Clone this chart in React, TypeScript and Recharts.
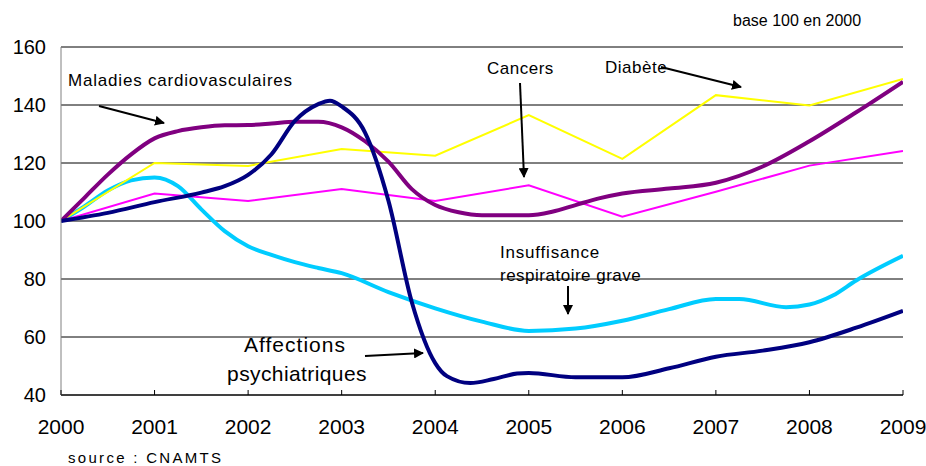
import React from 'react';
import { LineChart, Line, XAxis, YAxis, CartesianGrid } from 'recharts';

const years = [2000, 2001, 2002, 2003, 2004, 2005, 2006, 2007, 2008, 2009];
const yTicks = [40, 60, 80, 100, 120, 140, 160];

// yearly series (straight segments)
const diabete = [100, 120, 119, 124.8, 122.5, 136.5, 121.4, 143.4, 139.8, 149];
const cancers = [100, 109.5, 106.9, 111, 106.9, 112.3, 101.5, 110.1, 119.1, 124.1];

// smoothed series, [year, value]
const cardio = [
  [2000, 100], [2000.25, 108], [2000.5, 116], [2000.75, 123], [2001, 128.5],
  [2001.25, 131], [2001.5, 132.3], [2001.75, 133], [2002, 133.1], [2002.25, 133.6],
  [2002.5, 134.2], [2002.75, 134.2], [2003, 132.3], [2003.25, 127.5], [2003.5, 120.5],
  [2003.75, 111], [2004, 105.5], [2004.25, 103], [2004.5, 102], [2004.75, 102],
  [2005, 102], [2005.25, 103.2], [2005.5, 105.5], [2005.75, 107.8], [2006, 109.5],
  [2006.5, 111.2], [2007, 113.2], [2007.5, 118.8], [2008, 127.5], [2008.5, 137.5], [2009, 148],
];
const psy = [
  [2000, 100], [2000.5, 102.8], [2001, 106.5], [2001.5, 109.8], [2001.75, 112],
  [2002, 115.9], [2002.25, 123], [2002.5, 134.5], [2002.75, 140.3], [2002.875, 141.5],
  [2003, 139.5], [2003.25, 130.5], [2003.5, 107], [2003.75, 72], [2004, 51],
  [2004.125, 46.5], [2004.375, 44.1], [2004.625, 45.5], [2004.875, 47.4], [2005, 47.6],
  [2005.5, 46.1], [2006, 46.1], [2006.5, 49.2], [2007, 53.2], [2007.5, 55.3],
  [2008, 58.2], [2008.5, 63.2], [2009, 69],
];
const respi = [
  [2000, 100], [2000.25, 105], [2000.5, 110.5], [2000.75, 114], [2001, 115],
  [2001.25, 112], [2001.5, 104], [2001.75, 96.5], [2002, 91.3], [2002.25, 88.3],
  [2002.5, 85.8], [2002.75, 83.8], [2003, 82], [2003.5, 75.5], [2004, 69.9],
  [2004.5, 65.3], [2005, 62.1], [2005.5, 62.9], [2006, 65.6], [2006.5, 69.6],
  [2007, 73.1], [2007.25, 73.1], [2007.75, 70.3], [2008, 71.2], [2008.25, 74.3],
  [2008.5, 79.5], [2009, 88],
];

const yearly = (vals: number[]) => vals.map((v, i) => ({ x: years[i], v }));
const pairs = (arr: number[][]) => arr.map(([x, v]) => ({ x, v }));

const font = 'Arial, "Liberation Sans", sans-serif';

// tick mark points up into the plot, label well below the axis
const XTick = (props: any) => {
  const { x, y, payload } = props;
  return (
    <g>
      <line x1={x} x2={x} y1={y - 5} y2={y} stroke="#000" />
      <text x={x} y={y + 39} textAnchor="middle" fontSize={21} fill="#000" fontFamily={font}>
        {payload.value}
      </text>
    </g>
  );
};

const Arrow = ({ x1, y1, x2, y2 }: { x1: number; y1: number; x2: number; y2: number }) => (
  <line x1={x1} y1={y1} x2={x2} y2={y2} stroke="#000" strokeWidth={2} markerEnd="url(#ah)" />
);

const App = () => (
  <div style={{ position: 'absolute', left: 0, top: 0, width: 926, height: 466, background: '#fff' }}>
    <LineChart width={926} height={466} margin={{ top: 47, right: 23, left: 0, bottom: 41 }}>
      <CartesianGrid vertical={false} stroke="#000" />
      <XAxis
        dataKey="x"
        type="number"
        domain={[2000, 2009]}
        ticks={years}
        stroke="#000"
        tickLine={false}
        tickSize={0}
        tickMargin={0}
        height={30}
        tick={<XTick />}
        allowDataOverflow
      />
      <YAxis
        domain={[40, 160]}
        ticks={yTicks}
        width={61}
        stroke="#808080"
        tickLine={false}
        tickSize={0}
        tickMargin={15}
        tick={{ fontSize: 20, fill: '#000', fontFamily: font }}
      />
      <Line data={pairs(respi)} dataKey="v" type="monotone" stroke="#00CCFF" strokeWidth={4} dot={false} isAnimationActive={false} />
      <Line data={yearly(diabete)} dataKey="v" type="linear" stroke="#FFFF00" strokeWidth={2} dot={false} isAnimationActive={false} />
      <Line data={yearly(cancers)} dataKey="v" type="linear" stroke="#FF00FF" strokeWidth={2} dot={false} isAnimationActive={false} />
      <Line data={pairs(cardio)} dataKey="v" type="monotone" stroke="#800080" strokeWidth={4} dot={false} isAnimationActive={false} />
      <Line data={pairs(psy)} dataKey="v" type="monotone" stroke="#000080" strokeWidth={4} dot={false} isAnimationActive={false} />
    </LineChart>
    <svg width={926} height={466} style={{ position: 'absolute', left: 0, top: 0, pointerEvents: 'none' }} fontFamily={font}>
      <defs>
        <marker id="ah" viewBox="0 0 10 10" refX="9" refY="5" markerWidth="5" markerHeight="5" orient="auto">
          <path d="M0,0 L10,5 L0,10 z" fill="#000" />
        </marker>
      </defs>
      <text x={733} y={26} fontSize={16} fill="#000">base 100 en 2000</text>
      <text x={68} y={86} fontSize={17} letterSpacing={0.8} fill="#000">Maladies cardiovasculaires</text>
      <Arrow x1={99} y1={106} x2={164} y2={123} />
      <text x={487} y={74} fontSize={17} letterSpacing={0.5} fill="#000">Cancers</text>
      <Arrow x1={520} y1={83} x2={524} y2={177} />
      <text x={605} y={73} fontSize={17} letterSpacing={0.5} fill="#000">Diabète</text>
      <Arrow x1={661} y1={67} x2={741} y2={87} />
      <text x={500} y={258} fontSize={17} letterSpacing={0.8} fill="#000">Insuffisance</text>
      <text x={500} y={281} fontSize={17} letterSpacing={0.5} fill="#000">respiratoire grave</text>
      <Arrow x1={568} y1={286} x2={568} y2={314} />
      <text x={295} y={352} fontSize={21} letterSpacing={1} textAnchor="middle" fill="#000">Affections</text>
      <text x={297} y={381} fontSize={21} letterSpacing={0.4} textAnchor="middle" fill="#000">psychiatriques</text>
      <Arrow x1={365} y1={356} x2={423} y2={353} />
      <text x={68} y={463} fontSize={15} letterSpacing={2.3} fill="#000">source : CNAMTS</text>
    </svg>
  </div>
);

export default App;
